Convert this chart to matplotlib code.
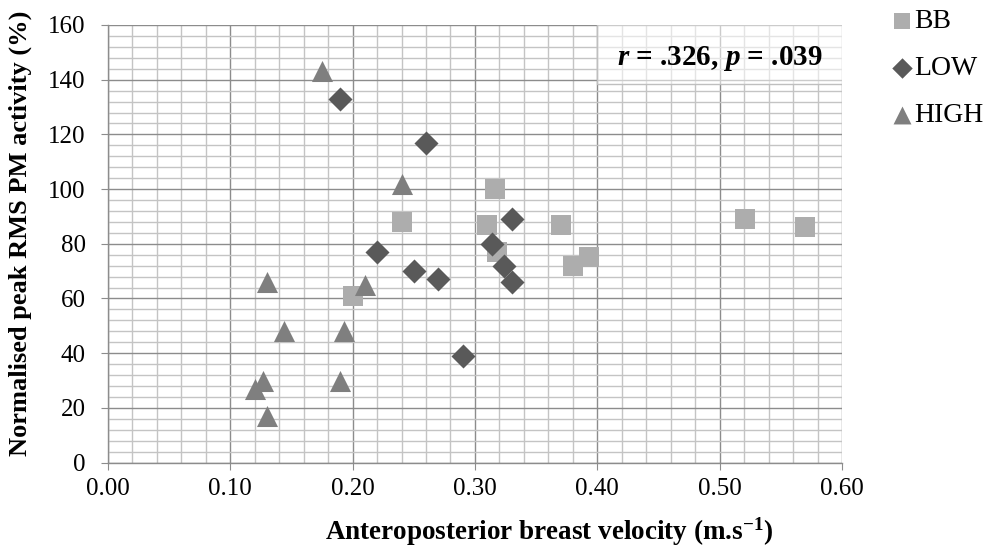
import numpy as np
import matplotlib
matplotlib.use('Agg')
import matplotlib.pyplot as plt
from matplotlib.patches import Rectangle
from matplotlib.ticker import MultipleLocator

plt.rcParams['font.family'] = 'Liberation Serif'
plt.rcParams['mathtext.fontset'] = 'custom'
plt.rcParams['mathtext.rm'] = 'Liberation Serif:bold'
plt.rcParams['mathtext.it'] = 'Liberation Serif:italic:bold'
plt.rcParams['mathtext.bf'] = 'Liberation Serif:bold'

# data
bb_x = [0.200, 0.240, 0.310, 0.316, 0.318, 0.370, 0.380, 0.393, 0.521, 0.570]
bb_y = [61, 88, 87, 100, 77, 87, 72, 75, 89, 86]

low_x = [0.190, 0.220, 0.250, 0.260, 0.270, 0.290, 0.314, 0.324, 0.330, 0.330]
low_y = [133, 77, 70, 117, 67, 39, 80, 72, 89, 66]

high_x = [0.120, 0.127, 0.130, 0.130, 0.144, 0.175, 0.190, 0.193, 0.210, 0.240]
high_y = [27, 30, 17, 66, 48, 143, 30, 48, 65, 102]

stat_text = r'$r$ = .326, $p$ = .039'

fig = plt.figure(figsize=(9.85, 5.49), dpi=100)
ax = fig.add_axes([0.1096, 0.1574, 0.7452, 0.7971])

ax.scatter(bb_x, bb_y, marker='s', s=200, color='#ADADAD', label='BB', zorder=3, linewidths=0)
ax.scatter(low_x, low_y, marker='D', s=150, color='#595959', label='LOW', zorder=3, linewidths=0)
ax.scatter(high_x, high_y, marker='^', s=230, color='#7F7F7F', label='HIGH', zorder=3, linewidths=0)

ax.set_xlim(0, 0.6)
ax.set_ylim(0, 160)
ax.xaxis.set_major_locator(MultipleLocator(0.1))
ax.xaxis.set_minor_locator(MultipleLocator(0.02))
ax.yaxis.set_major_locator(MultipleLocator(20))
ax.yaxis.set_minor_locator(MultipleLocator(4))
ax.xaxis.set_major_formatter(matplotlib.ticker.FormatStrFormatter('%.2f'))

ax.grid(which='minor', color='#C4C4C4', linewidth=1.0, zorder=0)
ax.grid(which='major', color='#8C8C8C', linewidth=1.0, zorder=1)
ax.set_axisbelow(True)

for side in ['top', 'right']:
    ax.spines[side].set_visible(False)
for side in ['left', 'bottom']:
    ax.spines[side].set_color('#8C8C8C')
    ax.spines[side].set_linewidth(1.0)

ax.tick_params(which='major', direction='out', length=5, color='#8C8C8C', labelsize=18)
ax.tick_params(axis='y', pad=11)
ax.tick_params(axis='x', pad=6)
ax.tick_params(which='minor', length=0)

# r / p box
ax.add_patch(Rectangle((0.40, 138.6), 0.20, 21.4, facecolor='white', alpha=0.55,
                       edgecolor='none', zorder=2))
ax.plot([0.40, 0.40, 0.60], [160, 138.6, 138.6], color='#BFBFBF', linewidth=1.0, zorder=2)
ax.text(0.50, 147.9, stat_text, ha='center', va='center', fontsize=21,
        fontweight='bold', zorder=4)

fig.text(549 / 985, 0.031, r'Anteroposterior breast velocity (m.s$^{-1}$)',
         ha='center', va='center', fontsize=19.5, fontweight='bold')
fig.text(0.021, 0.575, 'Normalised peak RMS PM activity (%)', ha='center', va='center',
         rotation=90, fontsize=19, fontweight='bold')

fig.legend(loc='upper left', bbox_to_anchor=(0.879, 1.03), frameon=False, fontsize=20,
           handlelength=0.8, handletextpad=0.05, labelspacing=0.78, markerscale=0.85)

fig.savefig('out.png', dpi=100)
